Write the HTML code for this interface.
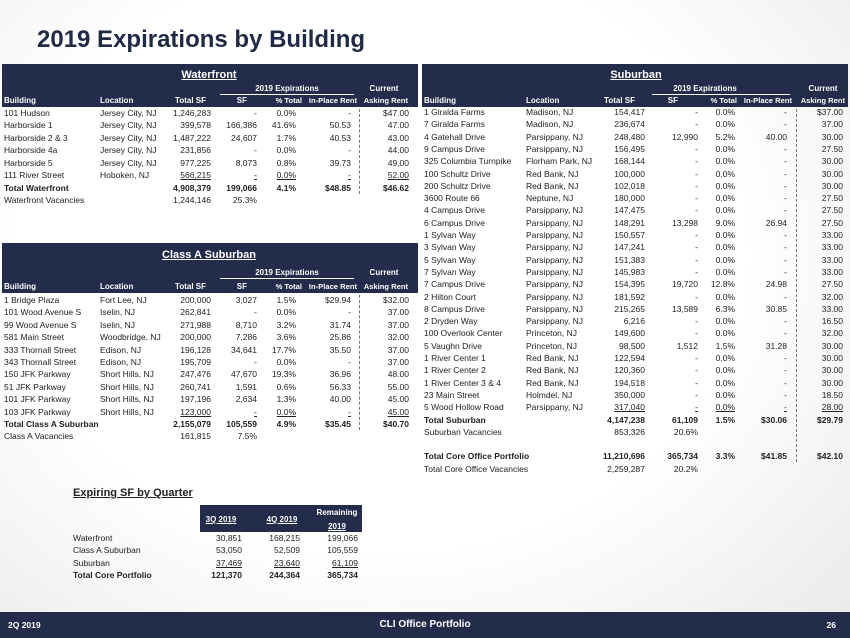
<!DOCTYPE html>
<html><head><meta charset="utf-8">
<style>
body{margin:0;}
#slide{position:relative;width:850px;height:638px;overflow:hidden;background:radial-gradient(ellipse at 45% 40%,#ffffff 55%,#e9e9e9 100%);font-family:"Liberation Sans",sans-serif;color:#222;}
.t{position:absolute;white-space:nowrap;font-size:8.5px;line-height:12px;height:12px;}
.b{font-weight:bold;}
.w{color:#fff;}
.band{position:absolute;background:#232c4a;}
.u{text-decoration:underline;}
</style></head>
<body>
<div id="slide">
  <div class="t b" style="left:37px;top:24px;height:32px;line-height:32px;font-size:24px;color:#1f2a44;">2019 Expirations by Building</div>
  <div class="band" style="left:0;top:612px;width:850px;height:26px;"></div>
  <div class="t b w" style="left:8px;top:619px;">2Q 2019</div>
  <div class="t b w" style="left:355px;top:619px;width:140px;text-align:center;font-size:10px;">CLI Office Portfolio</div>
  <div class="t b w" style="left:810px;top:619px;width:26px;text-align:right;">26</div>
</div>
<script>
const waterfrontRows=[
["101 Hudson","Jersey City, NJ","1,246,283","-","0.0%","-","$47.00"],
["Harborside 1","Jersey City, NJ","399,578","166,386","41.6%","50.53","47.00"],
["Harborside 2 & 3","Jersey City, NJ","1,487,222","24,607","1.7%","40.53","43.00"],
["Harborside 4a","Jersey City, NJ","231,856","-","0.0%","-","44.00"],
["Harborside 5","Jersey City, NJ","977,225","8,073","0.8%","39.73","49.00"],
["111 River Street","Hoboken, NJ","566,215","-","0.0%","-","52.00"]];
const waterfrontTotals=[["Total Waterfront","","4,908,379","199,066","4.1%","$48.85","$46.62",1],["Waterfront Vacancies","","1,244,146","25.3%","","","",0]];
const classARows=[
["1 Bridge Plaza","Fort Lee, NJ","200,000","3,027","1.5%","$29.94","$32.00"],
["101 Wood Avenue S","Iselin, NJ","262,841","-","0.0%","-","37.00"],
["99 Wood Avenue S","Iselin, NJ","271,988","8,710","3.2%","31.74","37.00"],
["581 Main Street","Woodbridge, NJ","200,000","7,286","3.6%","25.86","32.00"],
["333 Thornall Street","Edison, NJ","196,128","34,641","17.7%","35.50","37.00"],
["343 Thornall Street","Edison, NJ","195,709","-","0.0%","-","37.00"],
["150 JFK Parkway","Short Hills, NJ","247,476","47,670","19.3%","36.96","48.00"],
["51 JFK Parkway","Short Hills, NJ","260,741","1,591","0.6%","56.33","55.00"],
["101 JFK Parkway","Short Hills, NJ","197,196","2,634","1.3%","40.00","45.00"],
["103 JFK Parkway","Short Hills, NJ","123,000","-","0.0%","-","45.00"]];
const classATotals=[["Total Class A Suburban","","2,155,079","105,559","4.9%","$35.45","$40.70",1],["Class A Vacancies","","161,815","7.5%","","","",0]];
const suburbanRows=[
["1 Giralda Farms","Madison, NJ","154,417","-","0.0%","-","$37.00"],
["7 Giralda Farms","Madison, NJ","236,674","-","0.0%","-","37.00"],
["4 Gatehall Drive","Parsippany, NJ","248,480","12,990","5.2%","40.00","30.00"],
["9 Campus Drive","Parsippany, NJ","156,495","-","0.0%","-","27.50"],
["325 Columbia Turnpike","Florham Park, NJ","168,144","-","0.0%","-","30.00"],
["100 Schultz Drive","Red Bank, NJ","100,000","-","0.0%","-","30.00"],
["200 Schultz Drive","Red Bank, NJ","102,018","-","0.0%","-","30.00"],
["3600 Route 66","Neptune, NJ","180,000","-","0.0%","-","27.50"],
["4 Campus Drive","Parsippany, NJ","147,475","-","0.0%","-","27.50"],
["6 Campus Drive","Parsippany, NJ","148,291","13,298","9.0%","26.94","27.50"],
["1 Sylvan Way","Parsippany, NJ","150,557","-","0.0%","-","33.00"],
["3 Sylvan Way","Parsippany, NJ","147,241","-","0.0%","-","33.00"],
["5 Sylvan Way","Parsippany, NJ","151,383","-","0.0%","-","33.00"],
["7 Sylvan Way","Parsippany, NJ","145,983","-","0.0%","-","33.00"],
["7 Campus Drive","Parsippany, NJ","154,395","19,720","12.8%","24.98","27.50"],
["2 Hilton Court","Parsippany, NJ","181,592","-","0.0%","-","32.00"],
["8 Campus Drive","Parsippany, NJ","215,265","13,589","6.3%","30.85","33.00"],
["2 Dryden Way","Parsippany, NJ","6,216","-","0.0%","-","16.50"],
["100 Overlook Center","Princeton, NJ","149,600","-","0.0%","-","32.00"],
["5 Vaughn Drive","Princeton, NJ","98,500","1,512","1.5%","31.28","30.00"],
["1 River Center 1","Red Bank, NJ","122,594","-","0.0%","-","30.00"],
["1 River Center 2","Red Bank, NJ","120,360","-","0.0%","-","30.00"],
["1 River Center 3 & 4","Red Bank, NJ","194,518","-","0.0%","-","30.00"],
["23 Main Street","Holmdel, NJ","350,000","-","0.0%","-","18.50"],
["5 Wood Hollow Road","Parsippany, NJ","317,040","-","0.0%","-","28.00"]];
const suburbanTotals=[["Total Suburban","","4,147,238","61,109","1.5%","$30.06","$29.79",1],["Suburban Vacancies","","853,326","20.6%","","","",0],null,["Total Core Office Portfolio","","11,210,696","365,734","3.3%","$41.85","$42.10",1],["Total Core Office Vacancies","","2,259,287","20.2%","","","",0]];
const quarterHeaders=["3Q 2019","4Q 2019"];
const quarterLabels=["Waterfront","Class A Suburban","Suburban","Total Core Portfolio"];
const q3Values=["30,851","53,050","37,469","121,370"];
const q4Values=["168,215","52,509","23,640","244,364"];
const remainingValues=["199,066","105,559","61,109","365,734"];

const S=document.getElementById('slide');
function txt(name,s,x,y,opts){
  opts=opts||{};
  const d=document.createElement('div');
  
  
  d.className='t'+(opts.bold?' b':'')+(opts.white?' w':'')+(opts.u?' u':'');
  d.textContent=s;
  d.style.top=(y-6)+'px';
  if(opts.right){d.style.left=(x-150)+'px';d.style.width='150px';d.style.textAlign='right';}
  else if(opts.center){d.style.left=(x-100)+'px';d.style.width='200px';d.style.textAlign='center';}
  else d.style.left=x+'px';
  if(opts.size){d.style.fontSize=opts.size+'px';}
  S.appendChild(d);return d;
}
function box(name,x,y,w,h,bg,extra){
  const d=document.createElement('div');
  
  
  d.style.cssText='position:absolute;left:'+x+'px;top:'+y+'px;width:'+w+'px;height:'+h+'px;background:'+bg+';'+(extra||'');
  S.appendChild(d);return d;
}
function table(c){
  box(c.key+'-header-band',c.x0,c.top,c.x1-c.x0,c.bandH,'#232c4a');
  txt(c.key+'-title',c.title,c.tcx,c.top+c.ty,{bold:1,white:1,center:1,u:1,size:11});
  txt(c.key+'-expirations-label','2019 Expirations',c.ecx,c.top+c.ey,{bold:1,white:1,center:1,size:8});
  box(c.key+'-expirations-rule',c.el0,c.top+c.ey+5,c.el1-c.el0,1,'#fff');
  txt(c.key+'-current-label','Current',c.ccx,c.top+c.ey,{bold:1,white:1,center:1,size:8});
  const hy=c.top+c.hy;
  txt(c.key+'-col-building','Building',c.bx,hy,{bold:1,white:1,size:8});
  txt(c.key+'-col-location','Location',c.lx,hy,{bold:1,white:1,size:8});
  const hn=['Total SF','SF','% Total','In-Place Rent','Asking Rent'];
  hn.forEach((h,i)=>txt(c.key+'-col-'+h.toLowerCase().replace(/[^a-z]+/g,'-'),h,c.hr[i],hy,{bold:1,white:1,right:1,size:i>=2?7.6:8}));
  let y=c.r0;
  c.rows.forEach((r,ri)=>{
    const last=ri===c.rows.length-1;
    txt(c.key+'-row-building',r[0],c.bx,y);
    txt(c.key+'-row-location',r[1],c.lx,y);
    for(let i=2;i<7;i++) txt(c.key+'-row-value',r[i],c.vr[i-2],y,{right:1,u:last});
    y+=c.dy;
  });
  c.totals.forEach(r=>{
    if(r){
      txt(c.key+'-summary-label',r[0],c.bx,y,{bold:r[7]});
      for(let i=2;i<7;i++) if(r[i]) txt(c.key+'-summary-value',r[i],c.vr[i-2],y,{right:1,bold:r[7]});
      if(r[7]) c.lastBold=y;
    }
    y+=c.dy;
  });
  box(c.key+'-dashed-divider',c.dash,c.top+c.bandH+2,0,c.lastBold+6-(c.top+c.bandH+2),'transparent','border-left:1px dashed #777;');
}
table({key:'waterfront',title:'Waterfront',x0:2,x1:418,top:64,bandH:43,ty:11,ey:25,hy:37,tcx:209,ecx:287,el0:220,el1:354,ccx:384,
  bx:4,lx:100,hr:[206,247,302,357,408],vr:[211,257,296,351,409],dash:359,r0:112.5,dy:12.5,rows:waterfrontRows,totals:waterfrontTotals});
table({key:'class-a',title:'Class A Suburban',x0:2,x1:418,top:243,bandH:50,ty:12,ey:30,hy:44,tcx:209,ecx:287,el0:220,el1:354,ccx:384,
  bx:4,lx:100,hr:[206,247,302,357,408],vr:[211,257,296,351,409],dash:359,r0:300,dy:12.4,rows:classARows,totals:classATotals});
table({key:'suburban',title:'Suburban',x0:422,x1:848,top:64,bandH:43,ty:11,ey:25,hy:37,tcx:636,ecx:705,el0:652,el1:790,ccx:823,
  bx:424,lx:526,hr:[635,678,737,792,845],vr:[645,698,735,787,843],dash:796,r0:112,dy:12.3,rows:suburbanRows,totals:suburbanTotals});

txt('quarter-table-title','Expiring SF by Quarter',73,493,{bold:1,u:1,size:11});
box('quarter-header-band',200,505,162,27,'#232c4a');
txt('quarter-col-3q',quarterHeaders[0],221,520,{bold:1,white:1,u:1,center:1,size:8});
txt('quarter-col-4q',quarterHeaders[1],282,520,{bold:1,white:1,u:1,center:1,size:8});
txt('quarter-col-remaining','Remaining',337,513,{bold:1,white:1,center:1,size:8});
txt('quarter-col-remaining-year','2019',337,527,{bold:1,white:1,u:1,center:1,size:8});
quarterLabels.forEach((l,i)=>{
  const y=538+i*12.3, bold=i===3, u=i===2;
  txt('quarter-row-label',l,73,y,{bold:bold});
  txt('quarter-3q-value',q3Values[i],242,y,{right:1,bold:bold,u:u});
  txt('quarter-4q-value',q4Values[i],300,y,{right:1,bold:bold,u:u});
  txt('quarter-remaining-value',remainingValues[i],358,y,{right:1,bold:bold,u:u});
});
</script>
</body></html>
